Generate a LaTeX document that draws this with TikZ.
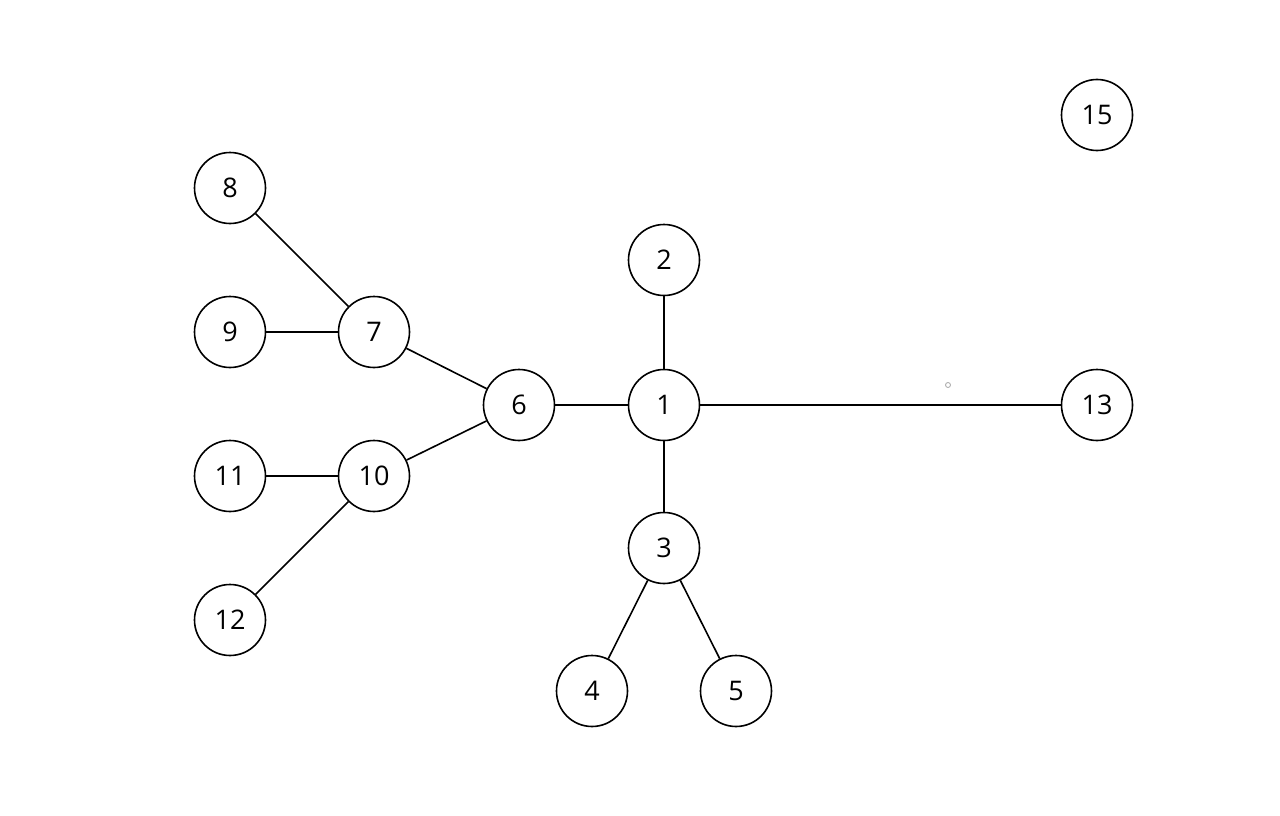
\documentclass[tikz,border=0pt]{standalone}
\usepackage{fontspec}
\setmainfont{Open Sans}
\begin{document}
\begin{tikzpicture}[x=1pt,y=-1pt,
  vert/.style={circle,draw,line width=1.6pt,minimum size=71pt,inner sep=0pt,font=\fontsize{27}{32}\selectfont},
  edge/.style={line width=1.6pt}]
\useasboundingbox[fill=white] (0,0) rectangle (1280,816);
\node[vert] (n1) at (664,405) {1};
\node[vert] (n2) at (664,260) {2};
\node[vert] (n3) at (664,548) {3};
\node[vert] (n4) at (592,691) {4};
\node[vert] (n5) at (736,691) {5};
\node[vert] (n6) at (519,405) {6};
\node[vert] (n7) at (374,332) {7};
\node[vert] (n8) at (230,188) {8};
\node[vert] (n9) at (230,332) {9};
\node[vert] (n10) at (374,476) {10};
\node[vert] (n11) at (230,476) {11};
\node[vert] (n12) at (230,620) {12};
\node[vert] (n13) at (1097,405) {13};
\node[vert] (n15) at (1097,115) {15};
\node[circle,draw=gray!70,line width=0.8pt,minimum size=5pt,inner sep=0pt] (dot) at (948,385) {};
\draw[edge] (n1) -- (n2);
\draw[edge] (n1) -- (n3);
\draw[edge] (n1) -- (n6);
\draw[edge] (n1) -- (n13);
\draw[edge] (n3) -- (n4);
\draw[edge] (n3) -- (n5);
\draw[edge] (n6) -- (n7);
\draw[edge] (n6) -- (n10);
\draw[edge] (n7) -- (n8);
\draw[edge] (n7) -- (n9);
\draw[edge] (n10) -- (n11);
\draw[edge] (n10) -- (n12);
\end{tikzpicture}
\end{document}
